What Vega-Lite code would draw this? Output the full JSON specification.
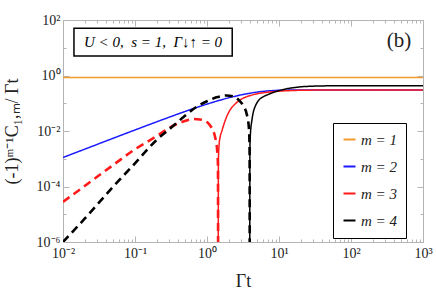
{
  "$schema": "https://vega.github.io/schema/vega-lite/v6.json",
  "autosize": {"type": "none"},
  "padding": {"left": 63, "top": 20, "right": 13, "bottom": 53},
  "width": 360,
  "height": 222,
  "background": "white",
  "config": {
    "view": {"stroke": "#b4b4b4", "strokeWidth": 1},
    "font": "Liberation Serif",
    "axis": {
      "domainColor": "#b4b4b4",
      "tickColor": "#b4b4b4",
      "labelFont": "Liberation Serif",
      "labelFontSize": 14,
      "labelColor": "#222222",
      "titleFont": "Liberation Serif",
      "titleFontWeight": "normal",
      "titleFontSize": 18,
      "titleColor": "#222222",
      "grid": false
    }
  },
  "datasets": {
    "curves": [
      {"m": "m = 1", "seg": "1", "style": "solid", "x": 0.01, "y": 0.84},
      {"m": "m = 1", "seg": "1", "style": "solid", "x": 1000, "y": 0.84},

      {"m": "m = 2", "seg": "2", "style": "solid", "x": 0.01, "y": 0.00111},
      {"m": "m = 2", "seg": "2", "style": "solid", "x": 0.02, "y": 0.00221},
      {"m": "m = 2", "seg": "2", "style": "solid", "x": 0.05, "y": 0.0055},
      {"m": "m = 2", "seg": "2", "style": "solid", "x": 0.1, "y": 0.0109},
      {"m": "m = 2", "seg": "2", "style": "solid", "x": 0.2, "y": 0.0214},
      {"m": "m = 2", "seg": "2", "style": "solid", "x": 0.3, "y": 0.0316},
      {"m": "m = 2", "seg": "2", "style": "solid", "x": 0.5, "y": 0.051},
      {"m": "m = 2", "seg": "2", "style": "solid", "x": 0.7, "y": 0.069},
      {"m": "m = 2", "seg": "2", "style": "solid", "x": 1, "y": 0.093},
      {"m": "m = 2", "seg": "2", "style": "solid", "x": 1.5, "y": 0.128},
      {"m": "m = 2", "seg": "2", "style": "solid", "x": 2, "y": 0.157},
      {"m": "m = 2", "seg": "2", "style": "solid", "x": 3, "y": 0.201},
      {"m": "m = 2", "seg": "2", "style": "solid", "x": 4, "y": 0.231},
      {"m": "m = 2", "seg": "2", "style": "solid", "x": 5, "y": 0.253},
      {"m": "m = 2", "seg": "2", "style": "solid", "x": 7, "y": 0.278},
      {"m": "m = 2", "seg": "2", "style": "solid", "x": 10, "y": 0.293},
      {"m": "m = 2", "seg": "2", "style": "solid", "x": 20, "y": 0.3},
      {"m": "m = 2", "seg": "2", "style": "solid", "x": 50, "y": 0.3},
      {"m": "m = 2", "seg": "2", "style": "solid", "x": 1000, "y": 0.3},

      {"m": "m = 3", "seg": "3a", "style": "dashed", "x": 0.01, "y": 0.000028},
      {"m": "m = 3", "seg": "3a", "style": "dashed", "x": 0.02, "y": 0.000104},
      {"m": "m = 3", "seg": "3a", "style": "dashed", "x": 0.05, "y": 0.0006},
      {"m": "m = 3", "seg": "3a", "style": "dashed", "x": 0.1, "y": 0.0022},
      {"m": "m = 3", "seg": "3a", "style": "dashed", "x": 0.16, "y": 0.0046},
      {"m": "m = 3", "seg": "3a", "style": "dashed", "x": 0.22, "y": 0.0077},
      {"m": "m = 3", "seg": "3a", "style": "dashed", "x": 0.3, "y": 0.013},
      {"m": "m = 3", "seg": "3a", "style": "dashed", "x": 0.47, "y": 0.022},
      {"m": "m = 3", "seg": "3a", "style": "dashed", "x": 0.65, "y": 0.027},
      {"m": "m = 3", "seg": "3a", "style": "dashed", "x": 0.8, "y": 0.026},
      {"m": "m = 3", "seg": "3a", "style": "dashed", "x": 1.0, "y": 0.021},
      {"m": "m = 3", "seg": "3a", "style": "dashed", "x": 1.1, "y": 0.016},
      {"m": "m = 3", "seg": "3a", "style": "dashed", "x": 1.2, "y": 0.011},
      {"m": "m = 3", "seg": "3a", "style": "dashed", "x": 1.3, "y": 0.0058},
      {"m": "m = 3", "seg": "3a", "style": "dashed", "x": 1.38, "y": 0.0022},
      {"m": "m = 3", "seg": "3a", "style": "dashed", "x": 1.42, "y": 0.0006},
      {"m": "m = 3", "seg": "3a", "style": "dashed", "x": 1.43, "y": 1e-9},

      {"m": "m = 3", "seg": "3b", "style": "solid", "x": 1.43, "y": 1e-9},
      {"m": "m = 3", "seg": "3b", "style": "solid", "x": 1.44, "y": 0.0008},
      {"m": "m = 3", "seg": "3b", "style": "solid", "x": 1.47, "y": 0.003},
      {"m": "m = 3", "seg": "3b", "style": "solid", "x": 1.52, "y": 0.006},
      {"m": "m = 3", "seg": "3b", "style": "solid", "x": 1.6, "y": 0.0095},
      {"m": "m = 3", "seg": "3b", "style": "solid", "x": 1.7, "y": 0.016},
      {"m": "m = 3", "seg": "3b", "style": "solid", "x": 1.85, "y": 0.03},
      {"m": "m = 3", "seg": "3b", "style": "solid", "x": 2.1, "y": 0.058},
      {"m": "m = 3", "seg": "3b", "style": "solid", "x": 2.5, "y": 0.098},
      {"m": "m = 3", "seg": "3b", "style": "solid", "x": 3.0, "y": 0.14},
      {"m": "m = 3", "seg": "3b", "style": "solid", "x": 4.0, "y": 0.19},
      {"m": "m = 3", "seg": "3b", "style": "solid", "x": 5.0, "y": 0.22},
      {"m": "m = 3", "seg": "3b", "style": "solid", "x": 7.0, "y": 0.25},
      {"m": "m = 3", "seg": "3b", "style": "solid", "x": 10, "y": 0.272},
      {"m": "m = 3", "seg": "3b", "style": "solid", "x": 15, "y": 0.287},
      {"m": "m = 3", "seg": "3b", "style": "solid", "x": 25, "y": 0.296},
      {"m": "m = 3", "seg": "3b", "style": "solid", "x": 50, "y": 0.3},
      {"m": "m = 3", "seg": "3b", "style": "solid", "x": 1000, "y": 0.3},

      {"m": "m = 4", "seg": "4a", "style": "dashed", "x": 0.01, "y": 0.000001},
      {"m": "m = 4", "seg": "4a", "style": "dashed", "x": 0.02, "y": 0.0000069},
      {"m": "m = 4", "seg": "4a", "style": "dashed", "x": 0.05, "y": 0.0001},
      {"m": "m = 4", "seg": "4a", "style": "dashed", "x": 0.093, "y": 0.00056},
      {"m": "m = 4", "seg": "4a", "style": "dashed", "x": 0.15, "y": 0.0022},
      {"m": "m = 4", "seg": "4a", "style": "dashed", "x": 0.2, "y": 0.0048},
      {"m": "m = 4", "seg": "4a", "style": "dashed", "x": 0.31, "y": 0.0125},
      {"m": "m = 4", "seg": "4a", "style": "dashed", "x": 0.5, "y": 0.036},
      {"m": "m = 4", "seg": "4a", "style": "dashed", "x": 0.72, "y": 0.075},
      {"m": "m = 4", "seg": "4a", "style": "dashed", "x": 1.0, "y": 0.118},
      {"m": "m = 4", "seg": "4a", "style": "dashed", "x": 1.35, "y": 0.163},
      {"m": "m = 4", "seg": "4a", "style": "dashed", "x": 1.86, "y": 0.19},
      {"m": "m = 4", "seg": "4a", "style": "dashed", "x": 2.3, "y": 0.178},
      {"m": "m = 4", "seg": "4a", "style": "dashed", "x": 2.77, "y": 0.13},
      {"m": "m = 4", "seg": "4a", "style": "dashed", "x": 3.2, "y": 0.08},
      {"m": "m = 4", "seg": "4a", "style": "dashed", "x": 3.55, "y": 0.042},
      {"m": "m = 4", "seg": "4a", "style": "dashed", "x": 3.8, "y": 0.015},
      {"m": "m = 4", "seg": "4a", "style": "dashed", "x": 3.88, "y": 0.005},
      {"m": "m = 4", "seg": "4a", "style": "dashed", "x": 3.91, "y": 0.0012},
      {"m": "m = 4", "seg": "4a", "style": "dashed", "x": 3.92, "y": 1e-9},

      {"m": "m = 4", "seg": "4b", "style": "solid", "x": 3.92, "y": 1e-9},
      {"m": "m = 4", "seg": "4b", "style": "solid", "x": 3.94, "y": 0.002},
      {"m": "m = 4", "seg": "4b", "style": "solid", "x": 4.0, "y": 0.007},
      {"m": "m = 4", "seg": "4b", "style": "solid", "x": 4.2, "y": 0.024},
      {"m": "m = 4", "seg": "4b", "style": "solid", "x": 4.4, "y": 0.048},
      {"m": "m = 4", "seg": "4b", "style": "solid", "x": 4.7, "y": 0.08},
      {"m": "m = 4", "seg": "4b", "style": "solid", "x": 5.1, "y": 0.118},
      {"m": "m = 4", "seg": "4b", "style": "solid", "x": 6.0, "y": 0.17},
      {"m": "m = 4", "seg": "4b", "style": "solid", "x": 7.0, "y": 0.205},
      {"m": "m = 4", "seg": "4b", "style": "solid", "x": 8.5, "y": 0.25},
      {"m": "m = 4", "seg": "4b", "style": "solid", "x": 10, "y": 0.285},
      {"m": "m = 4", "seg": "4b", "style": "solid", "x": 12.6, "y": 0.33},
      {"m": "m = 4", "seg": "4b", "style": "solid", "x": 16, "y": 0.365},
      {"m": "m = 4", "seg": "4b", "style": "solid", "x": 20, "y": 0.39},
      {"m": "m = 4", "seg": "4b", "style": "solid", "x": 30, "y": 0.413},
      {"m": "m = 4", "seg": "4b", "style": "solid", "x": 50, "y": 0.425},
      {"m": "m = 4", "seg": "4b", "style": "solid", "x": 100, "y": 0.43},
      {"m": "m = 4", "seg": "4b", "style": "solid", "x": 1000, "y": 0.43}
    ],
    "box": [{"x": 0.0142, "x2": 2.24, "y": 5.04, "y2": 50.2}],
    "labels": [
      {"x": 0.178, "y": 16.1, "text": "U < 0,\u00a0 s = 1,\u00a0 Γ↓↑ = 0", "kind": "params"},
      {"x": 464, "y": 17.5, "text": "(b)", "kind": "panel"}
    ]
  },
  "layer": [
    {
      "data": {"name": "box"},
      "mark": {"type": "rect", "fill": "white", "stroke": "black", "strokeWidth": 1.5},
      "encoding": {
        "x": {"field": "x", "type": "quantitative", "scale": {"type": "log", "domain": [0.01, 1000]},
          "axis": {"orient": "top", "labels": false, "title": null, "domain": false,
            "values": [0.01,0.02,0.03,0.04,0.05,0.06,0.07,0.08,0.09,0.1,0.2,0.3,0.4,0.5,0.6,0.7,0.8,0.9,1,2,3,4,5,6,7,8,9,10,20,30,40,50,60,70,80,90,100,200,300,400,500,600,700,800,900,1000],
            "tickSize": {"condition": {"test": "indexof([0.01,0.1,1,10,100,1000], datum.value) >= 0", "value": -6}, "value": -3}}},
        "x2": {"field": "x2"},
        "y": {"field": "y", "type": "quantitative", "scale": {"type": "log", "domain": [0.000001, 100]},
          "axis": {"orient": "right", "labels": false, "title": null, "domain": false,
            "values": [0.000001,0.00001,0.0001,0.001,0.01,0.1,1,10,100],
            "tickSize": {"condition": {"test": "indexof([0.000001,0.0001,0.01,1,100], datum.value) >= 0", "value": -6}, "value": -3}}},
        "y2": {"field": "y2"}
      }
    },
    {
      "data": {"name": "labels"},
      "transform": [{"filter": "datum.kind == 'params'"}],
      "mark": {"type": "text", "font": "Liberation Serif", "fontStyle": "italic", "fontSize": 15, "align": "center", "baseline": "middle", "color": "black"},
      "encoding": {
        "x": {"field": "x", "type": "quantitative", "axis": null},
        "y": {"field": "y", "type": "quantitative", "axis": null},
        "text": {"field": "text"}
      }
    },
    {
      "data": {"name": "labels"},
      "transform": [{"filter": "datum.kind == 'panel'"}],
      "mark": {"type": "text", "font": "Liberation Serif", "fontSize": 21, "align": "center", "baseline": "middle", "color": "#222222"},
      "encoding": {
        "x": {"field": "x", "type": "quantitative", "axis": null},
        "y": {"field": "y", "type": "quantitative", "axis": null},
        "text": {"field": "text"}
      }
    },
    {
      "data": {"name": "curves"},
      "mark": {"type": "line", "clip": true, "interpolate": "monotone"},
      "encoding": {
        "x": {"field": "x", "type": "quantitative",
          "axis": {"orient": "bottom", "title": "Γt", "titleX": 180, "titleY": 44, "titleBaseline": "alphabetic", "titleAlign": "center",
            "domain": false, "labelPadding": 10, "labelFlush": false, "labelOverlap": false,
            "values": [0.01,0.02,0.03,0.04,0.05,0.06,0.07,0.08,0.09,0.1,0.2,0.3,0.4,0.5,0.6,0.7,0.8,0.9,1,2,3,4,5,6,7,8,9,10,20,30,40,50,60,70,80,90,100,200,300,400,500,600,700,800,900,1000],
            "labelExpr": "datum.value == 0.01 ? '10⁻²' : datum.value == 0.1 ? '10⁻¹' : datum.value == 1 ? '10⁰' : datum.value == 10 ? '10¹' : datum.value == 100 ? '10²' : datum.value == 1000 ? '10³' : ''",
            "tickSize": {"condition": {"test": "indexof([0.01,0.1,1,10,100,1000], datum.value) >= 0", "value": -6}, "value": -3}}},
        "y": {"field": "y", "type": "quantitative",
          "axis": {"orient": "left", "title": "(-1)ᵐ⁻¹C₁,ₘ/ Γt", "titleX": -51, "titleY": 111, "titleBaseline": "middle", "titleAlign": "center", "titleAngle": -90,
            "domain": false, "labelPadding": 9, "labelFlush": false, "labelOverlap": false,
            "values": [0.000001,0.00001,0.0001,0.001,0.01,0.1,1,10,100],
            "labelExpr": "datum.value == 100 ? '10²' : datum.value == 1 ? '10⁰' : datum.value == 0.01 ? '10⁻²' : datum.value == 0.0001 ? '10⁻⁴' : datum.value == 0.000001 ? '10⁻⁶' : ''",
            "tickSize": {"condition": {"test": "indexof([0.000001,0.0001,0.01,1,100], datum.value) >= 0", "value": -6}, "value": -3}}},
        "color": {"field": "m", "type": "nominal",
          "scale": {"domain": ["m = 1", "m = 2", "m = 3", "m = 4"], "range": ["#f39a30", "#1a1aff", "#ff1a1a", "#000000"]},
          "legend": {"orient": "none", "legendX": 270, "legendY": 103, "title": null,
            "symbolType": "stroke", "symbolStrokeWidth": 2, "symbolSize": 144,
            "labelFont": "Liberation Serif", "labelFontStyle": "italic", "labelFontWeight": "normal", "labelFontSize": 15, "labelColor": "#222222",
            "rowPadding": 11, "padding": 9, "strokeColor": "black", "fillColor": "white", "labelOffset": 4}},
        "strokeDash": {"field": "style", "type": "nominal", "scale": {"domain": ["solid", "dashed"], "range": [[1, 0], [8, 5]]}, "legend": null},
        "strokeWidth": {"field": "style", "type": "nominal", "scale": {"domain": ["solid", "dashed"], "range": [1.5, 2.6]}, "legend": null},
        "detail": {"field": "seg", "type": "nominal"},
        "order": {"field": "x", "type": "quantitative"}
      }
    }
  ],
  "resolve": {"axis": {"x": "independent", "y": "independent"}}
}
